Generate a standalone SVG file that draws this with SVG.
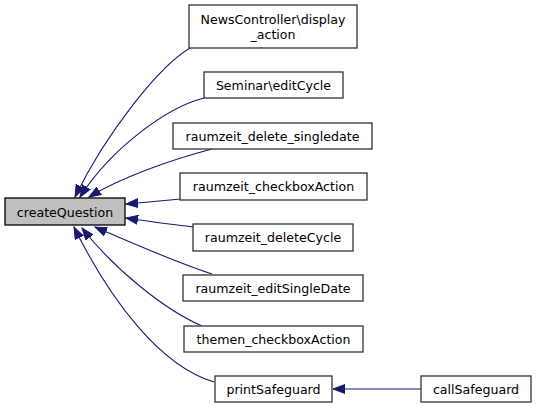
<svg xmlns="http://www.w3.org/2000/svg" width="536" height="408" viewBox="0 0 536 408">
<defs>
<style>
.node rect{fill:#ffffff;stroke:#333333;stroke-width:1.3}
.node.hl rect{fill:#bfbfbf;stroke:#000000}
.node text{font-family:"DejaVu Sans",sans-serif;font-size:12.6px;fill:#000000;text-anchor:middle}
.edge path{fill:none;stroke:#191970;stroke-width:1.1;marker-end:url(#arr)}
</style>
<marker id="arr" markerUnits="userSpaceOnUse" markerWidth="13" markerHeight="10" refX="12" refY="5" orient="auto" viewBox="0 0 13 10">
<path d="M0,0.5 L12,5 L0,9.5 z" fill="#191970" stroke="#191970"/>
</marker>
</defs>
<rect width="536" height="408" fill="#ffffff"/>
<g id="edges" class="edge">
<path d="M192,47 C160,64 105,135 75,197"/>
<path d="M204,98 C165,108 110,150 80,197"/>
<path d="M212,149 C170,160 120,178 89,197"/>
<path d="M180,199 C160,201 140,203 126,204"/>
<path d="M193,227 C170,224 145,221 126,218"/>
<path d="M212,274 C175,262 125,240 95,227"/>
<path d="M202,326 C165,310 115,270 82,228"/>
<path d="M214,382 C160,366 110,300 74,227"/>
<path d="M421,389 L333,389"/>
</g>
<g id="createQuestion" class="node hl"><rect x="5" y="198" width="120" height="27"/><text x="65" y="216.5">createQuestion</text></g>
<g id="newsController" class="node"><rect x="189" y="5" width="168" height="43"/><text x="273" y="23.5">NewsController\display</text><text x="273" y="38.5">_action</text></g>
<g id="seminarEditCycle" class="node"><rect x="204" y="72" width="139" height="26"/><text x="273.5" y="89.6">Seminar\editCycle</text></g>
<g id="deleteSingledate" class="node"><rect x="173" y="123" width="199" height="26"/><text x="272.5" y="140.6">raumzeit_delete_singledate</text></g>
<g id="raumzeitCheckbox" class="node"><rect x="180" y="173" width="187" height="27"/><text x="273.5" y="191">raumzeit_checkboxAction</text></g>
<g id="deleteCycle" class="node"><rect x="193" y="224" width="160" height="27"/><text x="273" y="242">raumzeit_deleteCycle</text></g>
<g id="editSingleDate" class="node"><rect x="183" y="275" width="180" height="26"/><text x="273" y="292.6">raumzeit_editSingleDate</text></g>
<g id="themenCheckbox" class="node"><rect x="184" y="326" width="179" height="26"/><text x="273.5" y="343.6">themen_checkboxAction</text></g>
<g id="printSafeguard" class="node"><rect x="215" y="376" width="117" height="26"/><text x="273.5" y="393.6">printSafeguard</text></g>
<g id="callSafeguard" class="node"><rect x="421" y="376" width="110" height="26"/><text x="476" y="393.6">callSafeguard</text></g>
</svg>
